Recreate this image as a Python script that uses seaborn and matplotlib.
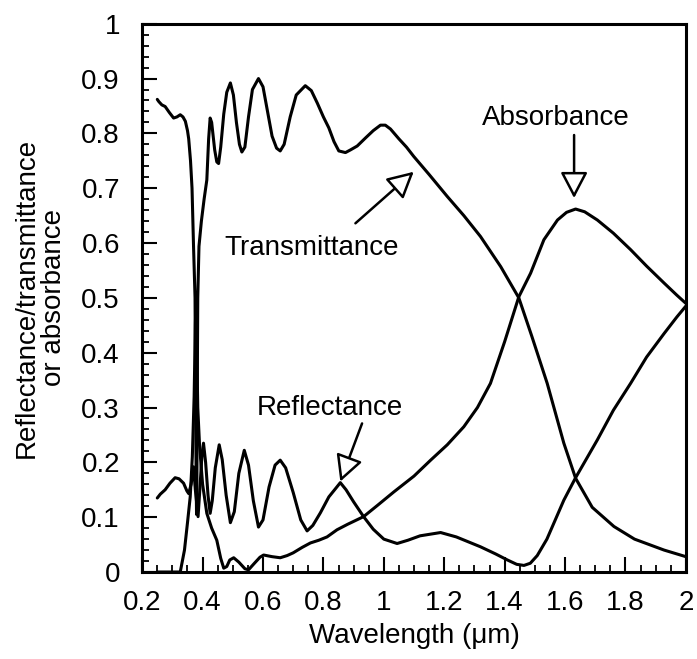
import numpy as np
import pandas as pd
import matplotlib
matplotlib.use("Agg")
import matplotlib.pyplot as plt
import seaborn as sns
from matplotlib.ticker import MultipleLocator, FixedLocator

sns.set_theme(style="white")
plt.rcParams['font.family'] = ['Liberation Sans', 'DejaVu Sans']
plt.rcParams['text.color'] = 'black'
plt.rcParams['axes.labelcolor'] = 'black'
plt.rcParams['xtick.color'] = 'black'
plt.rcParams['ytick.color'] = 'black'

# Transmittance
T_x = [0.25, 0.255, 0.265, 0.276, 0.29, 0.304, 0.315, 0.326, 0.335, 0.343, 0.350, 0.354,
       0.360, 0.365, 0.370, 0.375, 0.377, 0.379, 0.380, 0.381, 0.382, 0.384, 0.388, 0.396,
       0.405, 0.414, 0.420, 0.425, 0.430, 0.440, 0.447, 0.453, 0.460, 0.470, 0.480, 0.492,
       0.502, 0.512, 0.522, 0.530, 0.540, 0.552, 0.565, 0.585, 0.600, 0.615, 0.630, 0.645,
       0.657, 0.670, 0.690, 0.710, 0.740, 0.760, 0.780, 0.800, 0.818, 0.835, 0.851, 0.873,
       0.890, 0.912, 0.940, 0.965, 0.989, 1.005, 1.022, 1.050, 1.075, 1.099, 1.150, 1.210,
       1.265, 1.320, 1.387, 1.447, 1.490, 1.541, 1.596, 1.635, 1.690, 1.762, 1.830, 1.928, 2.000]
T_y = [0.862, 0.858, 0.852, 0.849, 0.838, 0.828, 0.830, 0.834, 0.830, 0.822, 0.805, 0.790,
       0.750, 0.700, 0.594, 0.500, 0.300, 0.150, 0.105, 0.150, 0.300, 0.500, 0.594, 0.640,
       0.680, 0.715, 0.790, 0.828, 0.820, 0.770, 0.748, 0.745, 0.775, 0.835, 0.875, 0.892,
       0.870, 0.820, 0.780, 0.766, 0.775, 0.830, 0.880, 0.900, 0.885, 0.840, 0.795, 0.773,
       0.768, 0.780, 0.830, 0.870, 0.887, 0.878, 0.855, 0.830, 0.810, 0.785, 0.768, 0.765,
       0.770, 0.777, 0.792, 0.805, 0.815, 0.815, 0.808, 0.790, 0.775, 0.758, 0.725, 0.685,
       0.650, 0.612, 0.557, 0.500, 0.430, 0.344, 0.235, 0.171, 0.118, 0.083, 0.060, 0.040, 0.028]

# Reflectance
R_x = [0.25, 0.260, 0.276, 0.292, 0.309, 0.322, 0.337, 0.348, 0.354, 0.362, 0.370, 0.376,
       0.385, 0.392, 0.398, 0.403, 0.410, 0.418, 0.425, 0.432, 0.442, 0.455, 0.465, 0.478,
       0.492, 0.505, 0.520, 0.538, 0.552, 0.568, 0.585, 0.600, 0.620, 0.640, 0.657, 0.675,
       0.700, 0.725, 0.746, 0.765, 0.790, 0.818, 0.840, 0.856, 0.875, 0.900, 0.933, 0.965,
       1.000, 1.044, 1.080, 1.120, 1.188, 1.240, 1.320, 1.370, 1.409, 1.440, 1.464, 1.485,
       1.508, 1.540, 1.570, 1.596, 1.635, 1.707, 1.760, 1.817, 1.870, 1.928, 1.970, 2.000]
R_y = [0.135, 0.142, 0.150, 0.162, 0.172, 0.170, 0.162, 0.148, 0.143, 0.160, 0.192, 0.150,
       0.101, 0.160, 0.215, 0.235, 0.200, 0.140, 0.107, 0.130, 0.190, 0.232, 0.205, 0.140,
       0.090, 0.110, 0.180, 0.222, 0.195, 0.130, 0.082, 0.095, 0.155, 0.195, 0.204, 0.190,
       0.145, 0.095, 0.075, 0.085, 0.108, 0.137, 0.152, 0.163, 0.150, 0.128, 0.101, 0.078,
       0.060, 0.052, 0.058, 0.066, 0.072, 0.064, 0.046, 0.033, 0.022, 0.014, 0.012, 0.016,
       0.030, 0.060, 0.098, 0.131, 0.172, 0.241, 0.295, 0.344, 0.392, 0.435, 0.465, 0.485]

# Absorbance
A_x = [0.25, 0.326, 0.340, 0.350, 0.359, 0.366, 0.372, 0.376, 0.378, 0.380, 0.384, 0.390,
       0.400, 0.414, 0.430, 0.447, 0.460, 0.470, 0.480, 0.490, 0.503, 0.520, 0.540, 0.552,
       0.570, 0.590, 0.602, 0.630, 0.657, 0.680, 0.700, 0.730, 0.757, 0.785, 0.812, 0.845,
       0.880, 0.933, 0.980, 1.033, 1.100, 1.155, 1.210, 1.265, 1.310, 1.353, 1.400, 1.447,
       1.486, 1.530, 1.575, 1.605, 1.635, 1.665, 1.707, 1.760, 1.817, 1.870, 1.928, 1.970, 2.000]
A_y = [0.0, 0.0, 0.040, 0.090, 0.137, 0.210, 0.320, 0.450, 0.490, 0.430, 0.300, 0.230,
       0.160, 0.107, 0.080, 0.058, 0.025, 0.007, 0.010, 0.022, 0.026, 0.018, 0.006, 0.004,
       0.015, 0.027, 0.031, 0.028, 0.026, 0.030, 0.035, 0.045, 0.053, 0.058, 0.064, 0.077,
       0.087, 0.101, 0.122, 0.146, 0.175, 0.204, 0.232, 0.265, 0.300, 0.344, 0.420, 0.502,
       0.545, 0.606, 0.642, 0.656, 0.662, 0.657, 0.642, 0.618, 0.588, 0.558, 0.527, 0.505, 0.490]

x_ticks = [0.2, 0.4, 0.6, 0.8, 1.0, 1.2, 1.4, 1.6, 1.8, 2.0]
x_tick_labels = ["0.2", "0.4", "0.6", "0.8", "1", "1.2", "1.4", "1.6", "1.8", "2"]
y_ticks = [0.0, 0.1, 0.2, 0.3, 0.4, 0.5, 0.6, 0.7, 0.8, 0.9, 1.0]
y_tick_labels = ["0", "0.1", "0.2", "0.3", "0.4", "0.5", "0.6", "0.7", "0.8", "0.9", "1"]

df = pd.concat([
    pd.DataFrame({"Wavelength": T_x, "Value": T_y, "Series": "Transmittance"}),
    pd.DataFrame({"Wavelength": R_x, "Value": R_y, "Series": "Reflectance"}),
    pd.DataFrame({"Wavelength": A_x, "Value": A_y, "Series": "Absorbance"}),
], ignore_index=True)

fig = plt.figure(figsize=(6.97, 6.59), dpi=100)
ax = fig.add_axes([0.204, 0.132, 0.780, 0.832])

sns.lineplot(data=df, x="Wavelength", y="Value", hue="Series", units="Series",
             estimator=None, sort=False, palette=["black", "black", "black"],
             linewidth=2.2, legend=False, ax=ax)

FS = 20
ax.set_xlim(0.2, 2.0)
ax.set_ylim(0.0, 1.0)
ax.xaxis.set_major_locator(FixedLocator(x_ticks))
ax.set_xticklabels(x_tick_labels)
ax.yaxis.set_major_locator(FixedLocator(y_ticks))
ax.set_yticklabels(y_tick_labels)
ax.xaxis.set_minor_locator(MultipleLocator(0.05))
ax.yaxis.set_minor_locator(MultipleLocator(0.02))
ax.tick_params(axis="both", which="major", direction="in", length=11, width=1.5,
               labelsize=FS, colors="black", bottom=True, left=True, top=False, right=False)
ax.tick_params(axis="x", which="major", pad=13)
ax.tick_params(axis="y", which="major", pad=16)
ax.tick_params(axis="both", which="minor", direction="in", length=5, width=1.3,
               bottom=True, left=True, top=False, right=False)
for s in ax.spines.values():
    s.set_color("black")
    s.set_linewidth(2.2)

ax.set_xlabel("Wavelength (\u03bcm)", fontsize=FS, color="black", labelpad=5)
ax.set_ylabel("Reflectance/transmittance\nor absorbance", fontsize=FS, color="black",
              labelpad=10, linespacing=1.1)

arrow = dict(arrowstyle="-|>,head_length=0.8,head_width=0.42", fc="white", ec="black",
             lw=1.8, mutation_scale=20, shrinkA=0, shrinkB=0)
ax.annotate("", xy=(1.099, 0.73), xytext=(0.906, 0.636), arrowprops=arrow)
ax.text(0.76, 0.591, "Transmittance", fontsize=FS, ha="center", va="center", color="black")
ax.annotate("", xy=(1.63, 0.682), xytext=(1.63, 0.797), arrowprops=arrow)
ax.text(1.569, 0.828, "Absorbance", fontsize=FS, ha="center", va="center", color="black")
ax.annotate("", xy=(0.856, 0.165), xytext=(0.928, 0.271), arrowprops=arrow)
ax.text(0.82, 0.30, "Reflectance", fontsize=FS, ha="center", va="center", color="black")

fig.savefig("out.png", dpi=100, facecolor="white")
